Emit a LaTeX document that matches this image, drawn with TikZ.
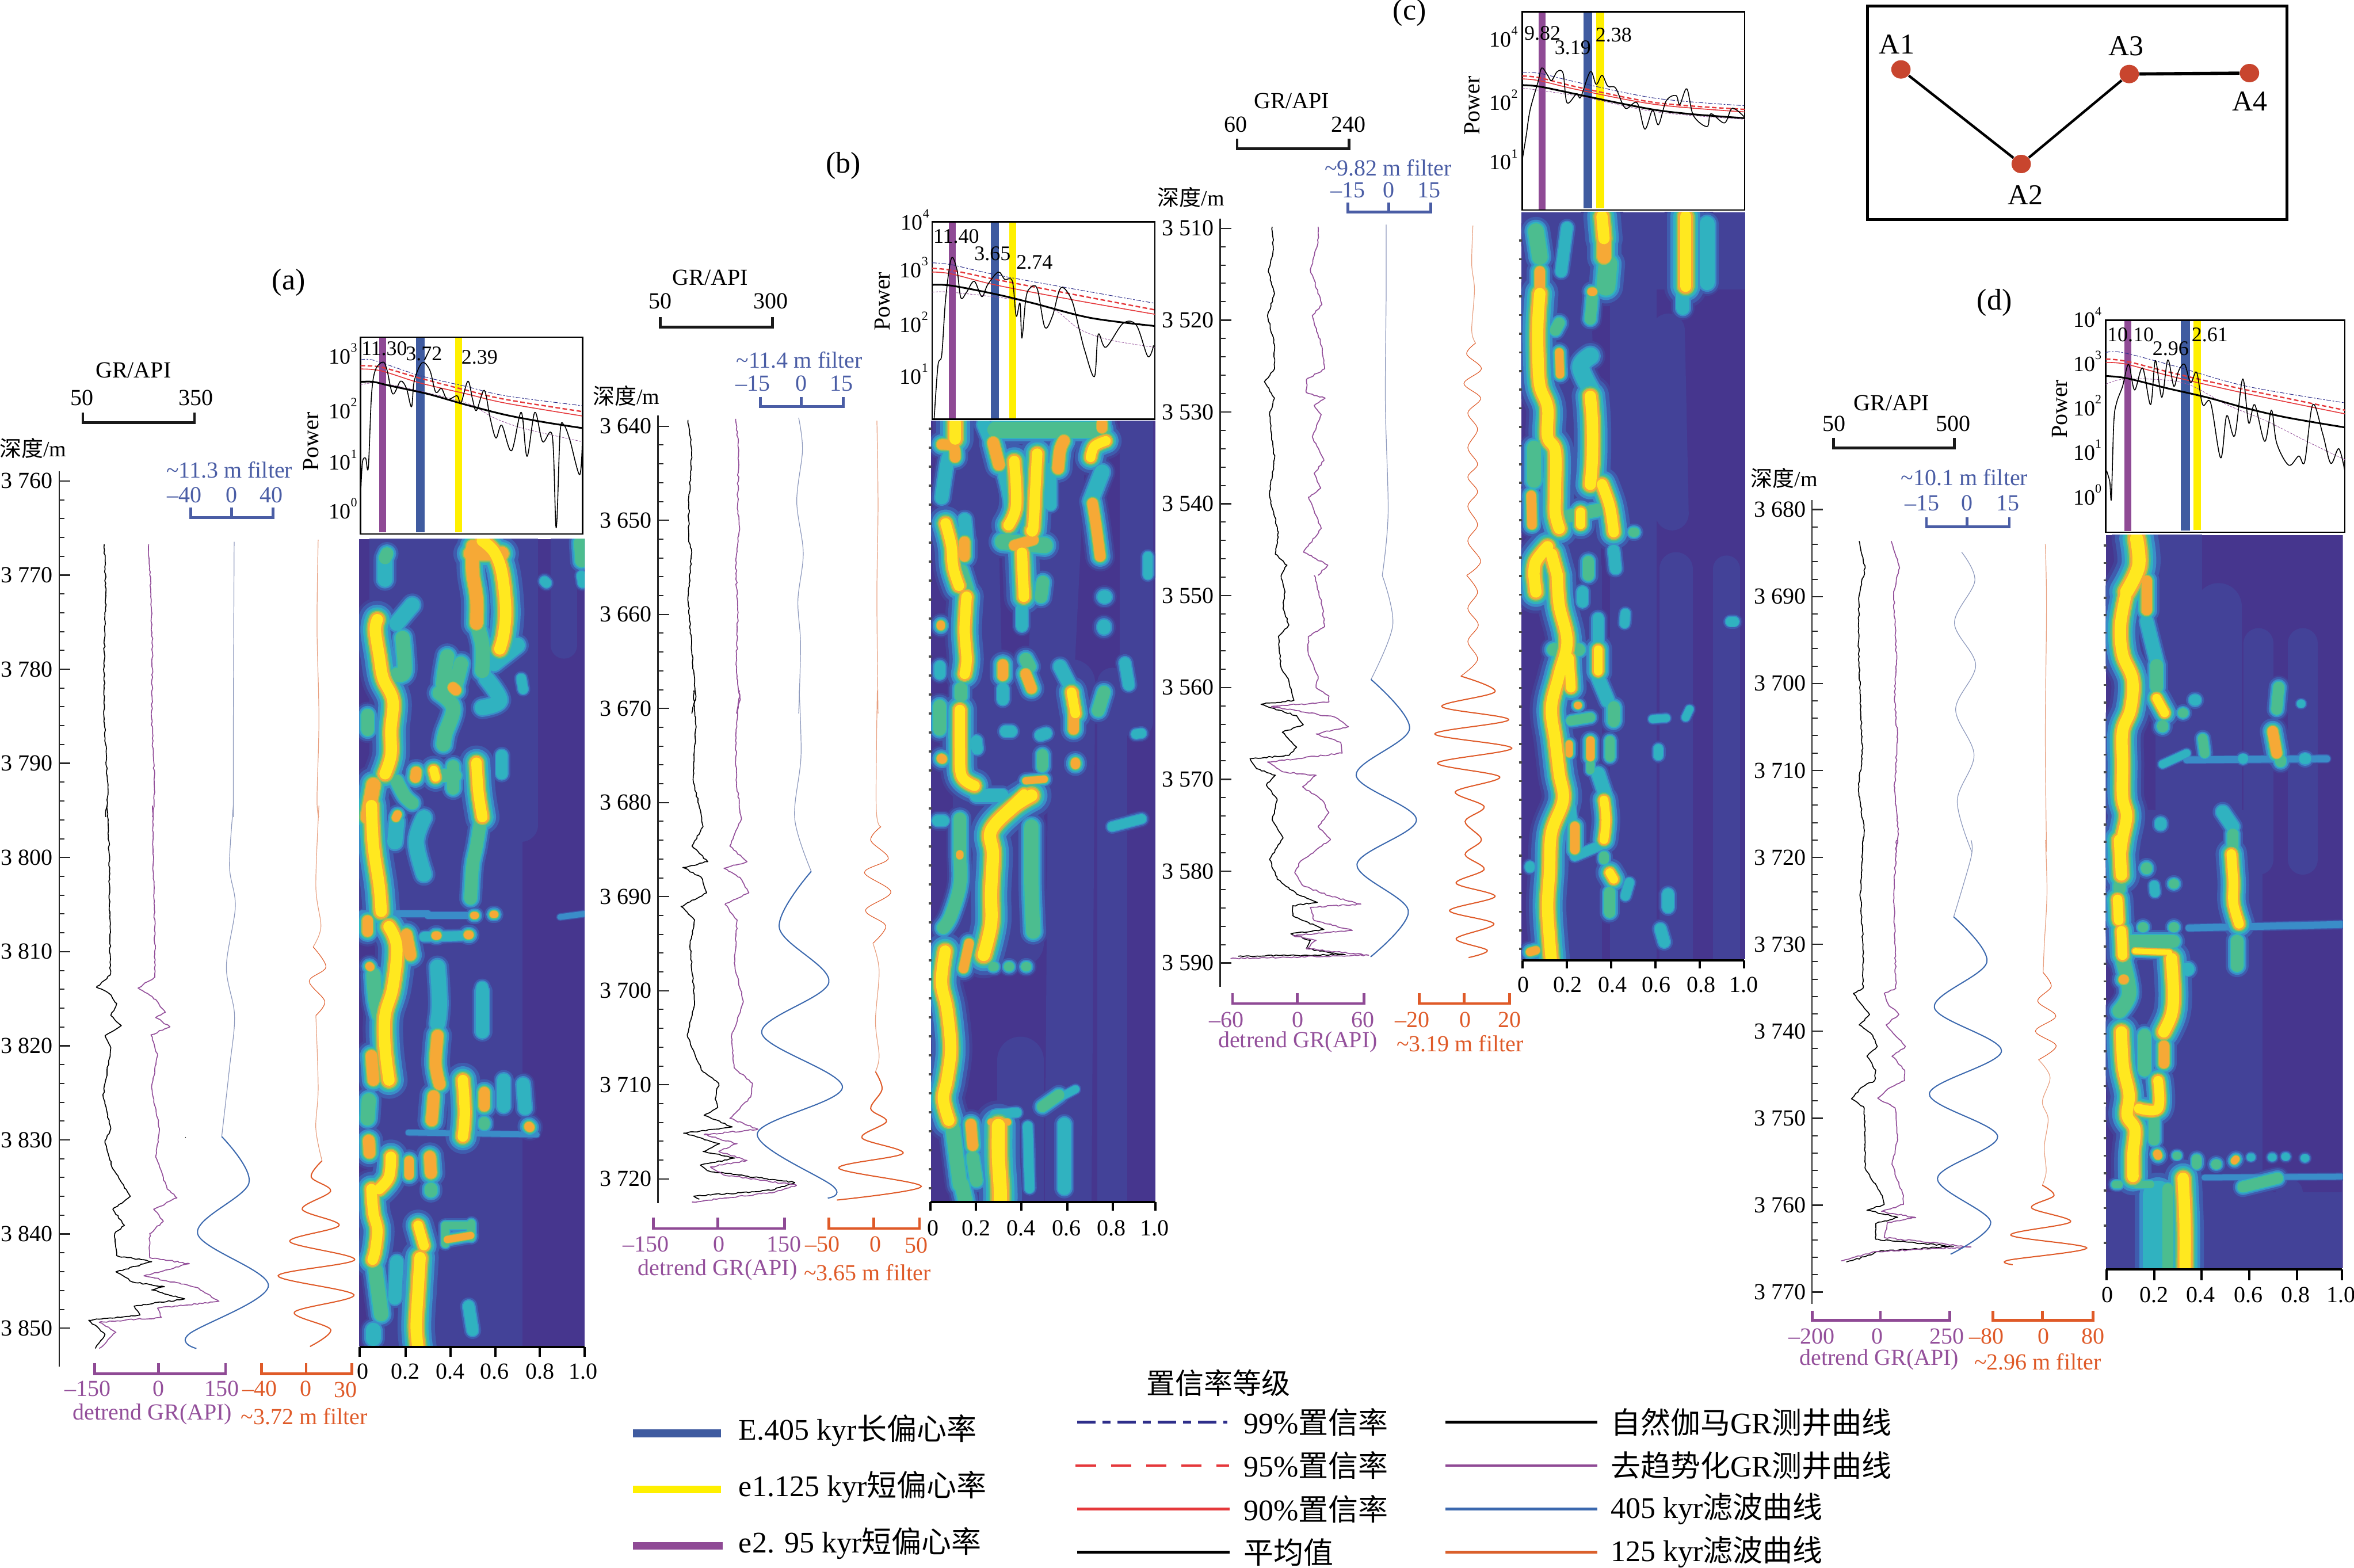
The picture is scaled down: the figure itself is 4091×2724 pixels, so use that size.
\documentclass[tikz,border=0pt]{standalone}
\usepackage{fontspec}
\setmainfont{Liberation Serif}
\newfontfamily\cjk{Noto Sans CJK SC}
\usetikzlibrary{shapes.geometric,decorations.pathmorphing}
\definecolor{hbg}{HTML}{46368E}
\definecolor{h0}{HTML}{434298}
\definecolor{h1}{HTML}{3F5CAE}
\definecolor{h2}{HTML}{3A8DC8}
\definecolor{h3}{HTML}{30B2C0}
\definecolor{h4}{HTML}{4CBD8F}
\definecolor{h5}{HTML}{A5BF50}
\definecolor{h6}{HTML}{F6A936}
\definecolor{h7}{HTML}{FFE81F}
\definecolor{cblue}{HTML}{4A5DA5}
\definecolor{cpur}{HTML}{94509B}
\definecolor{corg}{HTML}{DF5A28}
\definecolor{bblue}{HTML}{3F5BA0}
\definecolor{byel}{HTML}{FFF000}
\definecolor{bpur}{HTML}{8F4A95}
\definecolor{cnavy}{HTML}{2E2E8A}
\definecolor{cred}{HTML}{E5383B}
\definecolor{fblue}{HTML}{3B68AE}
\definecolor{fthin}{HTML}{8C98BC}
\definecolor{othin}{HTML}{E8A080}
\definecolor{wellc}{HTML}{C8452E}
\newcommand\fsz[1]{\fontsize{#1}{#1}\selectfont}
\newcount\nodeid
\tikzset{
  zm/.style n args={4}{shift={(#1,#2)},x={#3*0.25pt/1568},y={-#4*0.25pt/1568}},
  txt/.style={font=\fontsize{10}{12}\selectfont,inner sep=0pt},
  noisy/.style={decorate,decoration={random steps,segment length=1.2pt,amplitude=.3pt}},
  grc/.style={color=black,line width=.42pt,line join=round,noisy},
  puc/.style={color=cpur,line width=.42pt,line join=round,noisy},
  flt/.style={color=fblue,line width=.5pt},
  fltthin/.style={color=fthin,line width=.3pt},
  orc/.style={color=corg,line width=.5pt},
  orcmid/.style={color=corg,line width=.28pt},
  orcthin/.style={color=othin,line width=.3pt},
  spec/.style={color=black,line width=.4pt,line join=round},
  s99/.style={color=cnavy,line width=.25pt,dash pattern=on 2pt off .7pt on .7pt off .7pt},
  s95/.style={color=cred,line width=.6pt,dash pattern=on 2pt off 1.1pt},
  s90/.style={color=cred,line width=.4pt},
  smean/.style={color=black,line width=.75pt},
  sdot/.style={color=cpur,line width=.2pt,dash pattern=on 1pt off .5pt},
  brk/.style={line width=1.2pt,line cap=butt,line join=miter},
  well/.style={ellipse,fill=wellc,draw=none,minimum width=8.4pt,minimum height=8pt,inner sep=0pt},
}
\newcommand\lab[4][black]{\global\advance\nodeid by 1 \node[txt,text=#1] (n\the\nodeid) at (#2,#3) {#4};}
\newcommand\labl[4][black]{\global\advance\nodeid by 1 \node[txt,anchor=west,text=#1] (n\the\nodeid) at (#2,#3) {#4};}
\newcommand\cv[2][]{\draw[#1] plot[smooth,tension=.55] coordinates {#2};}
\newcommand\nv[2][]{\draw[#1] plot[sharp plot] coordinates {#2};}
\newcommand\pw[1]{10\raisebox{.55em}{\fsz{5.5}#1}}
\newcommand\brkt[6]{\draw[brk,color=#1] (#2,#5)--(#2,#6)--(#4,#6)--(#4,#5) (#3,#5)--(#3,#6);}
\newcommand\brkb[4]{\draw[brk,color=black!90] (#1,#3)--(#1,#4)--(#2,#4)--(#2,#3);}
% depth axis in native pixels: x, top, bottom, y of first label, px per m, majors-1, first depth, tick length
\newcommand\depthax[8]{%
 \draw[line width=.6pt,color=black!85] (#1,#2)--(#1,#3);
 \foreach \i in {0,...,#6}{%
  \pgfmathsetmacro\yy{#4+#5*10*\i}
  \pgfmathtruncatemacro\dd{#7+10*\i}
  \draw[line width=.6pt,color=black!85] (#1,\yy)--(#1+#8,\yy);
  \global\advance\nodeid by 1
  \node[txt,anchor=east] (n\the\nodeid) at (#1-10,\yy) {3 \dd};
  \ifnum\i<#6
  \foreach \k in {1,2,3,4}{%
   \pgfmathsetmacro\yk{\yy+#5*2*\k}
   \draw[line width=.5pt,color=black!85] (#1,\yk)--(#1+#8*.5,\yk);}
  \fi}}
\newcommand\xax[6]{\draw[line width=1pt] (#4,#1)--(#5,#1);
 \foreach \t/\l/\s in {#6}{\draw[line width=1pt] (\t,#1)--(\t,#2);
 \global\advance\nodeid by 1 \node[txt] (n\the\nodeid) at (\l,#3) {\s};}}
\newcommand\rgo[3]{\ifnum\curlayer>#1\relax\else
 \pgfmathsetmacro\rw{{1.45,1.25,1.0,.82,.68,.58,.5,.38}[\curlayer]}
 \draw[color=h\curlayer,line cap=round,line join=round,line width={#2*\rw*1pt}] plot[smooth,tension=.6] coordinates {#3};\fi}
\newcommand\rY[2][13]{\rgo{7}{#1}{#2}}
\newcommand\rO[2][12]{\rgo{6}{#1}{#2}}
\newcommand\rG[2][10.5]{\rgo{4}{#1}{#2}}
\newcommand\rC[2][8]{\rgo{3}{#1}{#2}}
\newcommand\rB[2][3]{\rgo{2}{#1}{#2}}
\newcommand\rF[2][14]{\rgo{0}{#1}{#2}}
\newcommand\heatmap[6]{%
 \begin{scope}\clip (#1) rectangle (#2);
 \fill[hbg] (#1) rectangle (#2);
 \foreach \curlayer in {0,...,7}{%
  \begin{scope}[zm/.expanded=#3]#4\end{scope}
  \begin{scope}[zm/.expanded=#5]#6\end{scope}}
 \end{scope}}
\newcommand\hticks[4]{\foreach \yy in {#2,#3,...,#4}{\draw[line width=.9pt,color=black!70] (#1-4,\yy)--(#1+1,\yy);}}
% spectrum overlay curves: 99, 95, 90, mean, dotted, raw
\newcommand\speccurves[6]{\cv[sdot]{#5}\cv[s99]{#1}\cv[s90]{#3}\cv[s95]{#2}\cv[smean]{#4}\cv[spec]{#6}}
\newcommand\partAa{%
 \rF{(1010,790)(1010,1590)}\rF{(1120,790)(1125,1590)}\rF{(1240,790)(1240,1590)}\rF[10]{(1340,790)(1340,1590)}\rF[8]{(1450,790)(1450,1100)}
 \rY{(970,1030)(965,1060)(975,1130)(985,1190)(1010,1250)(1005,1330)(1005,1400)(990,1450)}
 \rY{(1240,815)(1270,845)(1290,900)(1300,1000)(1295,1070)(1285,1110)}
 \rO{(1210,850)(1290,850)}
 \rO[11]{(1215,830)(1215,900)(1225,970)(1225,1040)}
 \rG[9]{(1225,1040)(1240,1100)(1240,1170)}
 \rC{(1060,990)(1020,1040)}\rG[9]{(1035,1080)(1040,1170)(1020,1180)}
 \rG[8]{(995,850)(990,862)}\rC{(990,870)(990,920)}
 \rG[8]{(945,1290)(945,1330)}
 \rG[9]{(1150,1130)(1140,1210)(1165,1222)(1185,1150)}
 \rO[9]{(1165,1215)(1172,1222)}
 \rG[9]{(1130,1230)(1165,1270)(1145,1340)(1140,1370)}
 \rY[10]{(1115,1440)(1120,1460)}\rO[9]{(1070,1445)(1068,1460)}\rG[8]{(1130,1455)(1170,1455)}\rG[8]{(1165,1430)(1165,1490)}
 \rY[12]{(1225,1420)(1230,1500)(1240,1568)}
 \rO{(960,1480)(945,1568)}
 \rC{(1250,1190)(1285,1250)(1240,1270)}\rC{(1330,1100)(1270,1150)}
 \rC[6]{(1290,1400)(1290,1450)}\rC[5]{(1340,1190)(1345,1220)}
 \rG[8]{(1020,1470)(1040,1510)(1060,1530)}
 \rG[8]{(1492,820)(1495,870)}\rC[5]{(1400,925)(1405,930)}\rC[5]{(1495,910)(1498,930)}
}
\newcommand\partAb{%
 \rF{(1030,-20)(1040,1360)}\rF{(1130,-20)(1125,1360)}\rF{(1240,-20)(1240,1360)}\rF[10]{(1300,-20)(1300,1360)}
 \rY{(955,0)(960,100)(975,200)(980,262)}
 \rB{(930,268)(1100,268)}\rB{(1100,272)(1220,272)}\rB[2.5]{(1440,276)(1503,268)}
 \rO[9]{(945,285)(945,312)}
 \rC[5]{(1090,325)(1210,322)}\rO[7]{(1120,322)(1124,322)}\rO[7]{(1203,320)(1207,320)}
 \rO[6]{(1218,272)(1222,272)}\rO[6]{(1268,270)(1272,270)}
 \rY{(1000,300)(1020,350)(1010,450)(990,520)(990,600)(1000,680)}
 \rO[10]{(1045,320)(1055,370)}
 \rO[10]{(955,620)(960,680)}\rO[7]{(950,398)(952,400)}
 \rG[9]{(960,420)(965,480)(975,520)}
 \rO[7]{(1022,22)(1018,30)}\rC{(1020,40)(1015,90)}\rC{(1090,30)(1070,90)(1090,170)}
 \rG[8]{(1235,40)(1225,100)(1215,150)(1210,230)}\rY[10]{(1238,3)(1240,20)}
 \rC{(1125,400)(1130,490)(1125,540)}\rC[7]{(1240,460)(1240,560)}
 \rO[10]{(1125,570)(1120,640)(1130,690)}
 \rY[12]{(1190,680)(1195,760)(1190,820)}
 \rO[9]{(1245,710)(1245,745)}\rG[7]{(1245,785)(1245,790)}\rC[7]{(1295,680)(1295,745)}\rC[7]{(1345,690)(1350,750)}\rO[8]{(1360,795)(1362,797)}
 \rB[2.5]{(1050,810)(1380,815)}
 \rO[10]{(1115,720)(1110,780)}\rG[9]{(948,730)(945,775)}
 \rO[10]{(948,830)(950,860)}\rY[12]{(1005,870)(1000,920)(975,950)}
 \rO[8]{(1052,880)(1052,915)}\rO[10]{(1105,870)(1108,910)}\rG[8]{(1108,950)(1108,955)}
 \rY[12]{(955,950)(960,1010)(970,1050)(965,1100)(958,1125)}
 \rG[9]{(965,1150)(980,1260)}\rC{(960,1300)(960,1320)}
 \rY[11]{(1075,1040)(1090,1090)}
 \rO[6]{(1150,1075)(1210,1065)}\rG[5]{(1150,1040)(1210,1040)}\rG[5]{(1145,1040)(1145,1085)}\rG[5]{(1212,1035)(1212,1070)}
 \rY{(1080,1120)(1075,1200)(1070,1290)(1075,1345)}
 \rC[6]{(1205,1240)(1215,1300)}\rC[7]{(1020,1130)(1015,1220)}\rC[6]{(1240,450)(1240,470)}
}
\newcommand\partBa{%
 \rF{(1040,750)(1060,1590)}\rF{(1280,750)(1240,1590)}\rF[10]{(1470,750)(1470,1590)}
 \rG[10]{(1100,795)(1380,795)}\rO[9]{(1380,778)(1380,790)}
 \rY{(995,775)(995,820)}\rO[9]{(960,835)(990,840)(995,870)}
 \rO[10]{(1095,830)(1110,890)}
 \rY[12]{(1150,880)(1155,1000)(1135,1055)}
 \rY[12]{(1210,860)(1205,960)(1200,1060)(1195,1070)}
 \rO[10]{(1280,825)(1270,850)(1265,900)}
 \rY[11]{(1390,825)(1360,840)(1350,870)}
 \rO[9]{(1355,995)(1365,1060)(1375,1140)}
 \rC{(1380,910)(1350,990)}
 \rY[12]{(970,1050)(985,1110)(990,1170)(1005,1220)}
 \rO[9]{(1020,1100)(1020,1140)}
 \rG[10]{(1120,1100)(1230,1110)}\rO[9]{(1150,1110)(1200,1095)}
 \rY[12]{(1170,1130)(1175,1250)}
 \rG[8]{(1225,1210)(1220,1250)}
 \rG[9]{(1010,1180)(1025,1230)}
 \rY[12]{(1025,1250)(1020,1340)(1025,1420)(1020,1460)}
 \rO[7]{(958,1326)(958,1330)}\rC[7]{(1385,1250)(1388,1250)}\rC[7]{(1385,1330)(1385,1335)}
 \rO[9]{(1120,1435)(1120,1465)}\rO[9]{(1180,1460)(1195,1500)}
 \rY[11]{(1300,1510)(1310,1568)}
 \rG[8]{(1385,1510)(1370,1560)}\rG[8]{(1180,1420)(1190,1440)}\rC[7]{(1270,1440)(1300,1500)}\rC[6]{(1440,1430)(1450,1490)}\rC[5]{(1500,1140)(1500,1190)}
 \rC[7]{(1070,780)(1090,830)}\rC[7]{(960,980)(975,880)(985,860)}\rC[7]{(1020,1040)(1025,1100)}
 \rC[7]{(1125,920)(1140,1000)(1130,1090)}\rC[6]{(1170,1280)(1170,1330)}\rC[6]{(1245,900)(1245,1000)}
 \rC[6]{(955,1440)(955,1460)}\rG[8]{(1010,1500)(1010,1520)}\rC[6]{(1120,1500)(1120,1530)}\rC[5]{(950,1560)(960,1568)}
}
\newcommand\partBb{%
 \rF{(1030,-20)(1030,650)}\rF{(1150,-20)(1150,650)}\rF{(1290,-20)(1280,1330)}\rF[9]{(1400,-20)(1400,1330)}
 \rF{(1150,950)(1150,1330)}
 \rO[9]{(1295,5)(1295,100)}\rO[8]{(1300,185)(1300,190)}\rO[6]{(1165,232)(1215,228)}
 \rG[8]{(930,40)(930,100)}\rY[12]{(985,50)(985,150)(990,220)(1025,245)}\rO[8]{(935,175)(937,176)}
 \rC[6]{(1030,130)(1032,150)}\rC[6]{(1110,105)(1125,105)}\rC[6]{(1220,110)(1205,115)}\rG[7]{(1210,165)(1210,195)}\rC[5]{(1480,110)(1465,112)}
 \rY[14]{(1180,270)(1130,300)(1070,360)(1075,420)(1070,520)(1070,600)(1050,680)}
 \rY[10]{(1160,265)(1110,310)}
 \rO[8]{(1010,650)(995,715)}
 \rC[7]{(1030,270)(1100,270)}
 \rG[8]{(985,330)(985,420)(985,500)(960,580)(940,610)}
 \rO[6]{(985,420)(985,425)}
 \rG[9]{(1180,350)(1180,500)(1185,620)}
 \rC[6]{(940,335)(925,335)}\rC[5]{(1400,350)(1480,330)}
 \rG[6]{(1075,710)(1078,710)}\rG[6]{(1118,710)(1120,710)}\rG[6]{(1165,710)(1167,710)}
 \rY{(945,670)(935,750)(950,820)(960,920)(950,1000)(940,1050)(955,1105)}
 \rG[7]{(1255,1040)(1210,1070)}\rC[5]{(1140,1085)(1080,1090)}\rC[4]{(1300,1025)(1250,1050)}
 \rG[9]{(965,1125)(985,1270)}\rO[9]{(1015,1115)(1020,1170)}\rG[8]{(1020,1200)(1030,1260)}
 \rY[15]{(1090,1118)(1090,1200)(1095,1280)(1095,1320)}
 \rO[6]{(1070,1110)(1115,1110)}
 \rC[7]{(1270,1115)(1270,1280)}\rG[9]{(990,1270)(1000,1312)}
 \rC[5]{(1170,1120)(1175,1280)}
}
\newcommand\partCa{%
 \ifnum\curlayer=0 \fill[h0] (952,578) rectangle (1528,788);\fi
 \rF{(1070,780)(1100,1590)}\rF{(1240,780)(1240,1590)}\rF[10]{(1330,900)(1340,1400)}
 \rY{(1160,590)(1165,650)}\rO[12]{(1165,650)(1165,700)}\rG[12]{(1175,720)(1170,780)}
 \rY{(1375,590)(1375,680)(1375,780)}\rC[8]{(1430,610)(1430,770)}\rC[7]{(1368,800)(1368,840)}
 \rG[10]{(990,630)(1000,700)}\rO[9]{(1000,740)(1000,780)}
 \rC[6]{(1070,620)(1055,740)}\rG[7]{(1135,810)(1130,870)}\rO[7]{(1133,795)(1137,795)}
 \rY{(1000,800)(995,880)(995,960)(1000,1050)(1020,1110)(1020,1190)(1040,1230)(1040,1340)(1040,1400)(1050,1440)}
 \rG[7]{(1050,880)(1040,900)}\rO[7]{(1050,960)(1052,1020)}
 \rC[9]{(1130,970)(1105,1000)(1130,1060)}
 \rY{(1130,1080)(1135,1150)(1135,1250)(1130,1320)}
 \rG[9]{(985,1220)(985,1310)}
 \rY[12]{(1160,1320)(1180,1380)(1190,1450)}
 \rO[8]{(978,1350)(980,1430)}
 \rG[8]{(1060,1410)(1150,1390)}\rY[10]{(1105,1395)(1105,1430)}
 \rG[6]{(1240,1450)(1244,1450)}
 \rY{(1020,1490)(990,1530)(985,1568)}\rY{(1030,1510)(1045,1568)}
 \rG[7]{(1125,1530)(1125,1568)}\rC[6]{(1190,1500)(1195,1550)}
}
\newcommand\partCb{%
 \rF{(1100,-20)(1100,1180)}\rF{(1240,-20)(1240,1180)}\rF[10]{(1350,-20)(1350,1180)}\rF[8]{(1480,-20)(1480,1180)}
 \rY{(985,0)(990,50)}
 \rY{(1045,0)(1050,90)(1070,200)(1050,300)(1030,400)(1040,500)(1050,600)(1060,680)(1030,780)(1025,900)(1020,1000)(1025,1100)(1030,1170)}
 \rG[8]{(1035,225)(1100,225)}
 \rY[11]{(1075,250)(1080,340)}
 \rC[6]{(1110,50)(1110,80)}\rC[6]{(1150,130)(1150,200)}\rY[10]{(1150,225)(1150,290)}
 \rC[7]{(1150,310)(1175,380)}\rG[8]{(1190,400)(1190,440)}\rG[6]{(1180,500)(1180,550)}
 \rO[6]{(1097,393)(1099,393)}\rG[6]{(1080,440)(1130,430)}\rO[7]{(1130,500)(1130,550)}\rO[6]{(1075,510)(1075,540)}
 \rG[5]{(1130,570)(1130,590)}
 \rC[7]{(1150,600)(1170,670)}\rY[10]{(1165,680)(1170,740)(1165,800)}\rG[6]{(1165,850)(1165,860)}
 \rO[8]{(1090,760)(1090,830)}\rC[5]{(1090,850)(1160,815)}\rC[5]{(1080,700)(1085,760)}
 \rY[10]{(1180,900)(1190,920)}\rG[7]{(1180,960)(1180,1020)}\rC[5]{(1230,930)(1220,970)}
 \rC[6]{(1330,965)(1330,1005)}\rC[6]{(1310,1070)(1320,1110)}\rC[5]{(1305,525)(1305,545)}\rC[5]{(1500,140)(1490,140)}\rC[5]{(1220,115)(1218,145)}
 \rC[4]{(1290,435)(1325,432)}\rC[4]{(1375,430)(1385,405)}\rC[5]{(975,880)(975,885)}
 \rO[7]{(990,1135)(975,1140)}
}
\newcommand\partDa{%
 \rF{(1130,685)(1130,1590)}\rF{(1230,900)(1230,1590)}\rF[9]{(1330,1000)(1330,1590)}\rF[9]{(1440,1000)(1440,1590)}
 \rY[15]{(1025,715)(1030,790)(1000,860)}
 \rY{(1000,860)(985,950)(990,1030)(1015,1100)(1010,1180)(990,1240)(990,1330)(990,1420)(1000,1470)(990,1530)(985,1568)}
 \rO[9]{(1050,830)(1050,910)}\rC[7]{(1050,940)(1075,1050)}\rG[8]{(1075,1060)(1075,1120)}
 \rY[10]{(1075,1150)(1095,1190)}\rG[7]{(1090,1225)(1090,1228)}
 \rG[6]{(1140,1190)(1142,1190)}\rC[6]{(1170,1155)(1172,1155)}\rG[6]{(1190,1260)(1195,1300)}
 \rC[4]{(1090,1330)(1150,1300)}\rB{(1150,1318)(1500,1315)}
 \rG[7]{(1380,1120)(1375,1180)}\rO[9]{(1365,1240)(1375,1300)}\rG[7]{(1385,1320)(1385,1323)}
 \rC[5]{(1290,1315)(1292,1315)}\rC[6]{(1445,1315)(1447,1315)}\rC[4]{(1435,1165)(1437,1165)}
 \rC[7]{(1240,1460)(1265,1500)}\rG[7]{(1265,1520)(1265,1568)}\rC[6]{(1085,1490)(1085,1495)}
}
\newcommand\partDb{%
 \ifnum\curlayer=0 \fill[h0] (925,1010) rectangle (1537,1230);\fi
 \rF{(1040,-20)(1040,950)}\rF{(1150,-20)(1150,1000)}\rF{(1270,-20)(1270,1250)}\rF[8]{(1400,1010)(1400,1250)}\rF[8]{(1140,400)(1150,900)}
 \rY{(960,0)(965,100)}\rG[8]{(960,130)(960,140)}\rY[11]{(955,170)(958,230)}\rY[11]{(965,260)(968,330)}
 \rG[9]{(970,350)(985,440)(960,490)}\rO[8]{(970,400)(972,400)}
 \rY[11]{(1250,40)(1255,120)(1255,180)(1270,240)}\rG[8]{(1265,290)(1265,360)}
 \rG[7]{(1030,80)(1030,82)}\rC[5]{(1050,130)(1052,150)}\rG[6]{(1100,125)(1102,125)}
 \rG[6]{(1020,250)(1022,250)}\rG[6]{(1100,250)(1102,250)}\rB{(1140,252)(1537,242)}
 \rG[8]{(965,290)(1100,290)}
 \rY[6]{(1000,318)(1090,322)}
 \rY{(1095,340)(1100,440)(1095,500)(1075,550)}\rO[9]{(1075,590)(1075,640)}
 \rC[7]{(1135,370)(1137,370)}
 \rY{(965,550)(970,650)(985,730)(980,790)(1000,830)(995,900)(995,965)}
 \rG[8]{(1025,560)(1025,660)}
 \rY[11]{(1060,690)(1060,770)(1010,770)}
 \rG[7]{(1050,800)(1050,860)}\rO[7]{(1058,900)(1060,905)}
 \rG[5]{(1108,905)(1110,905)}\rG[6]{(1160,915)(1160,930)}\rG[6]{(1210,930)(1212,930)}\rO[6]{(1262,915)(1258,920)}\rC[4]{(1300,910)(1302,910)}\rC[4]{(1355,910)(1357,910)}\rC[4]{(1390,908)(1392,908)}\rC[4]{(1440,912)(1442,912)}
 \rG[5]{(950,988)(958,988)}\rG[5]{(1005,988)(1040,988)}
 \rC[16]{(1060,1020)(1060,1240)}\rG[7]{(1085,1000)(1085,1240)}
 \rY{(1125,970)(1130,1100)(1130,1240)}
 \rG[7]{(1280,995)(1370,970)}\rB[2.5]{(1180,968)(1537,965)}
}
\pgfmathsetseed{42}
\begin{document}
\begin{tikzpicture}[x=.25pt,y=-.25pt]
\useasboundingbox (0,0) rectangle (4091,2724);
\fill[white] (0,0) rectangle (4091,2724);
% ================= PANEL A =================
\heatmap{624,936.6}{1016,2340}{{0}{420}{1060}{1000}}{\partAa}{{0}{1400}{1060}{1100}}{\partAb}
\depthax{102.8}{818.6}{2375}{835.8}{16.36}{9}{760}{19}
\begin{scope}[zm={0}{420}{1060}{1000}]
 \lab{742}{112}{\fsz{13}(a)}
 \lab{343}{350}{GR/API}\lab{211}{425}{50}\lab{503}{425}{350}
 \brkb{213}{500}{465}{493}
 \lab{85}{563}{\fsz{9.5}{\cjk 深度}/m}
 \lab[cblue]{590}{622}{\textasciitilde 11.3 m filter}
 \lab[cblue]{474}{690}{–40}\lab[cblue]{595}{690}{0}\lab[cblue]{698}{690}{40}
 \brkt{cblue}{490}{595}{702}{725}{752}
 \nv[grc]{(268,825)(272,960)(268,1120)(268,1300)(278,1500)(272,1568)}
 \nv[puc]{(382,825)(388,960)(392,1120)(390,1300)(398,1500)(392,1568)}
 \cv[fltthin]{(602,818)(600,1300)(600,1568)}
 \cv[orcthin]{(818,812)(815,1050)(820,1300)(815,1520)(820,1568)}
 % spectrum
 \draw[fill=white,line width=.6pt] (927,260) rectangle (1498,797);
 \fill[bpur] (975,262) rectangle (993,792);
 \fill[bblue] (1069,262) rectangle (1092,792);
 \fill[byel] (1170,262) rectangle (1188,792);
 \speccurves{(927,323)(960,323)(1080,365)(1200,395)(1300,420)(1497,447)}
  {(927,338)(980,342)(1080,372)(1200,405)(1300,430)(1497,463)}
  {(927,347)(980,352)(1080,385)(1200,415)(1300,440)(1497,475)}
  {(927,382)(960,382)(1000,392)(1100,415)(1200,445)(1300,472)(1400,492)(1497,508)}
  {(927,390)(970,385)(1050,400)(1200,440)(1270,480)(1350,510)(1497,545)}
  {(928,670)(932,600)(940,590)(947,615)(955,420)(965,350)(985,328)(995,350)(1010,415)(1030,380)(1045,400)(1058,450)(1065,380)(1085,330)(1105,350)(1120,410)(1135,400)(1150,430)(1175,420)(1185,440)(1203,380)(1215,430)(1225,460)(1245,405)(1260,480)(1275,535)(1290,500)(1315,570)(1340,465)(1355,585)(1375,465)(1395,545)(1420,530)(1430,780)(1440,520)(1450,500)(1465,540)(1490,635)(1497,550)}
 \lab{988}{292}{\fsz{9}11.30}\lab{1090}{305}{\fsz{9}3.72}\lab{1233}{315}{\fsz{9}2.39}
 \lab{882}{305}{\fsz{9.5}\pw{3}}\lab{882}{455}{\fsz{9.5}\pw{2}}\lab{882}{595}{\fsz{9.5}\pw{1}}\lab{882}{727}{\fsz{9.5}\pw{0}}
 \global\advance\nodeid by 1 \node[txt,rotate=90] (n\the\nodeid) at (800,545) {Power};
\end{scope}
\begin{scope}[zm={0}{1400}{1060}{1100}]
 \nv[grc]{(275,0)(280,100)(283,300)(283,420)(248,450)(280,465)(300,490)(285,520)(312,545)(270,570)(285,600)(265,720)(285,800)(270,830)(290,900)(335,968)(290,1000)(320,1040)(295,1060)(300,1115)(390,1130)(298,1155)(340,1180)(423,1192)(390,1200)(475,1222)(345,1240)(360,1262)(228,1275)(270,1310)(245,1345)}
 \nv[puc]{(392,0)(393,100)(398,300)(398,425)(355,452)(400,480)(425,512)(400,525)(437,548)(388,568)(405,620)(390,700)(410,800)(400,870)(430,950)(455,972)(395,1000)(420,1030)(385,1060)(385,1120)(487,1135)(370,1165)(510,1195)(563,1228)(405,1245)(415,1268)(255,1280)(298,1305)(255,1345)}
 \cv[fltthin]{(600,0)(590,150)(605,250)(582,400)(603,520)(590,650)(570,820)}
 \cv[flt]{(570,820)(640,935)(508,1060)(690,1190)(485,1310)(505,1345)}
 \cv[orcthin]{(820,0)(812,200)(825,300)(805,350)}
 \cv[orcthin]{(812,520)(818,700)(812,800)(828,880)}
 \cv[orcmid]{(805,350)(838,400)(795,435)(835,485)(812,520)}
 \cv[orc]{(828,880)(800,920)(850,955)(777,1000)(872,1040)(745,1080)(912,1125)(715,1165)(910,1212)(757,1255)(850,1298)(797,1340)}
 \fill[black] (477,822) circle (1.2);
 \brkt{bpur}{243}{408}{580}{1382}{1408}
 \brkt{corg}{672}{787}{905}{1382}{1408}
 \lab[cpur]{225}{1445}{–150}\lab[cpur]{408}{1445}{0}\lab[cpur]{570}{1445}{150}
 \lab[corg]{668}{1445}{–40}\lab[corg]{786}{1445}{0}\lab[corg]{888}{1448}{30}
 \lab[cpur]{392}{1508}{detrend GR(API)}\lab[corg]{782}{1513}{\textasciitilde 3.72 m filter}
 \xax{1342}{1365}{1402}{925}{1503}{925/932/0,1043/1042/0.2,1158/1157/0.4,1273/1272/0.6,1388/1388/0.8,1503/1500/1.0}
\end{scope}
% ================= PANEL B =================
\heatmap{1618,731}{2008,2087}{{1000}{240}{1040}{1000}}{\partBa}{{1040}{1200}{1000}{1060}}{\partBb}
\hticks{1618}{745}{778}{2080}
\depthax{1143.3}{721.5}{2091}{740.7}{16.35}{8}{640}{20}
\begin{scope}[zm={1000}{240}{1040}{1000}]
 \lab{702}{75}{\fsz{13}(b)}
 \lab{353}{380}{GR/API}\lab{222}{445}{50}\lab{512}{445}{300}
 \brkb{222}{517}{488}{515}
 \lab{133}{703}{\fsz{9.5}{\cjk 深度}/m}
 \lab[cblue]{587}{605}{\textasciitilde 11.4 m filter}
 \lab[cblue]{465}{668}{–15}\lab[cblue]{592}{668}{0}\lab[cblue]{698}{668}{15}
 \brkt{cblue}{485}{592}{702}{705}{732}
 \nv[grc]{(295,768)(305,850)(297,1000)(297,1100)(305,1130)(295,1250)(305,1400)(315,1530)(305,1568)}
 \nv[puc]{(420,765)(428,850)(425,1000)(430,1060)(420,1150)(425,1300)(422,1450)(432,1530)(422,1568)}
 \cv[fltthin]{(585,762)(595,850)(580,990)(597,1130)(583,1260)(590,1380)(585,1568)}
 \cv[orcthin]{(790,770)(793,1000)(790,1250)(793,1568)}
 \draw[fill=white,line width=.6pt] (935,228) rectangle (1518,766);
 \fill[bpur] (978,230) rectangle (996,764);
 \fill[bblue] (1088,230) rectangle (1110,764);
 \fill[byel] (1137,230) rectangle (1155,764);
 \speccurves{(935,340)(985,345)(1100,372)(1300,410)(1518,450)}
  {(935,355)(985,360)(1100,385)(1300,425)(1518,468)}
  {(935,365)(985,370)(1100,400)(1300,440)(1518,480)}
  {(935,400)(985,402)(1100,425)(1200,450)(1350,490)(1518,512)}
  {(935,420)(985,420)(1150,440)(1250,465)(1320,520)(1400,550)(1518,570)}
  {(940,766)(950,620)(960,590)(970,440)(985,328)(1000,360)(1010,435)(1025,420)(1045,390)(1065,432)(1080,400)(1108,365)(1125,385)(1145,390)(1155,485)(1165,450)(1170,545)(1180,440)(1190,410)(1210,410)(1230,515)(1250,485)(1272,408)(1300,440)(1320,520)(1335,580)(1360,650)(1370,535)(1390,570)(1435,505)(1470,510)(1500,595)(1515,565)}
 \lab{998}{268}{\fsz{9}11.40}\lab{1093}{315}{\fsz{9}3.65}\lab{1203}{338}{\fsz{9}2.74}
 \lab{890}{222}{\fsz{9.5}\pw{4}}\lab{887}{352}{\fsz{9.5}\pw{3}}\lab{887}{502}{\fsz{9.5}\pw{2}}\lab{887}{643}{\fsz{9.5}\pw{1}}
 \global\advance\nodeid by 1 \node[txt,rotate=90] (n\the\nodeid) at (805,445) {Power};
\end{scope}
\begin{scope}[zm={1040}{1200}{1000}{1060}]
 \nv[grc]{(260,0)(265,100)(258,230)(280,320)(285,350)(255,400)(298,440)(230,455)(280,480)(295,520)(225,555)(262,590)(250,650)(262,800)(242,885)(280,975)(328,1010)(318,1050)(325,1072)(288,1092)(365,1122)(232,1138)(330,1165)(285,1185)(372,1202)(278,1220)(300,1235)(400,1248)(535,1265)(470,1285)(260,1300)(275,1308)}
 \nv[puc]{(385,0)(375,100)(375,230)(390,330)(358,400)(405,440)(342,457)(385,480)(410,520)(345,550)(378,590)(370,700)(395,800)(362,890)(370,970)(420,1010)(415,1045)(358,1100)(435,1128)(288,1142)(378,1165)(328,1185)(405,1208)(305,1225)(340,1245)(540,1272)(480,1290)(255,1315)}
 \cv[fltthin]{(547,0)(552,170)(535,330)(580,465)}
 \cv[flt]{(580,465)(493,610)(628,750)(445,880)(665,1020)(433,1140)(640,1275)(625,1305)}
 \cv[orcthin]{(760,0)(757,300)(770,350)}
 \cv[orcmid]{(770,350)(742,385)(790,432)(725,468)(797,518)(728,565)(783,605)(748,650)}
 \cv[orcthin]{(748,650)(765,720)(755,850)(765,940)(755,980)}
 \cv[orc]{(755,980)(773,1025)(742,1075)(785,1108)(718,1150)(830,1190)(655,1228)(880,1275)(650,1310)}
 \brkt{bpur}{150}{325}{507}{1355}{1383}
 \brkt{corg}{628}{750}{875}{1355}{1383}
 \lab[cpur]{130}{1423}{–150}\lab[cpur]{328}{1423}{0}\lab[cpur]{505}{1423}{150}
 \lab[corg]{610}{1423}{–50}\lab[corg]{755}{1423}{0}\lab[corg]{866}{1426}{50}
 \lab[cpur]{325}{1490}{detrend GR(API)}\lab[corg]{733}{1497}{\textasciitilde 3.65 m filter}
 \xax{1315}{1338}{1382}{905}{1518}{905/912/0,1028/1030/0.2,1152/1152/0.4,1278/1275/0.6,1402/1398/0.8,1518/1515/1.0}
\end{scope}
% ================= PANEL C =================
\heatmap{2643.6,368.6}{3033,1667}{{2000}{0}{1060}{1000}}{\partCa}{{2000}{1000}{1060}{900}}{\partCb}
\hticks{2643.6}{418}{450.4}{1650}
\depthax{2120.3}{379.5}{1714.6}{396.7}{15.96}{8}{510}{20}
\begin{scope}[zm={2000}{0}{1060}{1000}]
 \lab{665}{35}{\fsz{13}(c)}
 \lab{362}{275}{GR/API}\lab{218}{340}{60}\lab{508}{340}{240}
 \brkb{222}{510}{378}{405}
 \lab{103}{538}{\fsz{9.5}{\cjk 深度}/m}
 \lab[cblue]{610}{458}{\textasciitilde 9.82 m filter}
 \lab[cblue]{507}{518}{–15}\lab[cblue]{612}{518}{0}\lab[cblue]{715}{518}{15}
 \brkt{cblue}{507}{612}{720}{552}{578}
 \nv[grc]{(312,618)(315,680)(302,740)(318,800)(300,860)(318,940)(318,1005)(292,1040)(318,1085)(305,1130)(318,1250)(305,1350)(328,1450)(320,1510)(350,1540)(335,1568)}
 \nv[puc]{(430,618)(430,660)(410,735)(440,830)(415,860)(440,945)(447,1005)(400,1035)(400,1070)(448,1085)(420,1105)(438,1130)(415,1190)(445,1255)(420,1290)(437,1330)(405,1355)(438,1440)(393,1505)(455,1540)(430,1568)}
 \cv[fltthin]{(605,612)(605,800)(603,1100)(610,1400)(595,1568)}
 \cv[orcthin]{(828,615)(825,720)(832,790)(825,900)(835,935)}
 \cv[orcmid]{(835,935)(812,965)(850,1005)(805,1045)(848,1085)(815,1125)(840,1170)(815,1220)(840,1265)(815,1300)(840,1340)(815,1380)(840,1430)(815,1475)(848,1530)(812,1568)}
 \draw[fill=white,line width=.6pt] (955,32) rectangle (1527,572);
 \fill[bpur] (997,35) rectangle (1015,570);
 \fill[bblue] (1112,35) rectangle (1135,568);
 \fill[byel] (1145,35) rectangle (1165,568);
 \speccurves{(955,198)(1000,200)(1100,225)(1300,268)(1527,288)}
  {(955,207)(1000,212)(1100,238)(1300,280)(1527,298)}
  {(955,215)(1000,220)(1100,245)(1300,285)(1527,305)}
  {(955,232)(1000,236)(1100,258)(1200,280)(1300,300)(1400,312)(1527,322)}
  {(955,240)(1100,262)(1300,305)(1527,325)}
  {(955,435)(965,370)(975,300)(995,225)(1005,185)(1020,205)(1030,220)(1045,195)(1060,200)(1070,280)(1095,255)(1105,265)(1130,195)(1145,230)(1160,205)(1175,235)(1195,240)(1220,295)(1250,280)(1270,352)(1290,300)(1305,340)(1325,275)(1350,260)(1360,285)(1378,242)(1395,315)(1430,345)(1440,310)(1475,335)(1495,295)(1527,320)}
 \lab{1007}{90}{\fsz{9}9.82}\lab{1085}{130}{\fsz{9}3.19}\lab{1190}{95}{\fsz{9}2.38}
 \lab{907}{100}{\fsz{9.5}\pw{4}}\lab{907}{272}{\fsz{9.5}\pw{2}}\lab{907}{435}{\fsz{9.5}\pw{1}}
 \global\advance\nodeid by 1 \node[txt,rotate=90] (n\the\nodeid) at (826,288) {Power};
\end{scope}
\begin{scope}[zm={2000}{1000}{1060}{900}]
 \nv[grc]{(335,0)(345,50)(340,100)(355,150)(328,185)(335,280)(355,320)(368,378)(283,390)(375,425)(392,452)(338,475)(375,520)(355,545)(255,555)(272,585)(320,605)(297,635)(325,680)(312,740)(340,795)(305,860)(325,920)(375,965)(428,990)(365,1000)(365,1030)(445,1072)(360,1085)(410,1105)(400,1130)(500,1148)(225,1153)}
 \nv[puc]{(420,0)(432,50)(442,100)(447,155)(405,185)(405,240)(430,305)(425,340)(458,365)(458,383)(310,397)(475,430)(508,458)(425,480)(488,505)(492,538)(300,565)(340,595)(425,605)(390,640)(440,680)(458,718)(430,760)(462,800)(385,865)(370,900)(392,940)(460,970)(540,995)(410,1005)(420,1045)(518,1075)(365,1090)(425,1105)(400,1130)(560,1150)(205,1160)}
 \cv[fltthin]{(595,0)(622,150)(566,315)}
 \cv[flt]{(566,315)(665,465)(528,605)(683,740)(530,875)(662,1015)(565,1155)}
 \cv[orcmid]{(812,0)(840,50)(815,100)(842,150)(815,200)(840,255)(797,305)}
 \cv[orc]{(797,305)(885,352)(748,397)(920,437)(730,480)(928,523)(737,568)(897,610)(783,655)(857,700)(808,745)(850,800)(808,845)(857,890)(785,932)(885,972)(768,1015)(882,1055)(785,1100)(865,1135)(817,1157)}
 \brkt{bpur}{210}{377}{548}{1265}{1296}
 \brkt{corg}{690}{805}{922}{1265}{1296}
 \lab[cpur]{195}{1345}{–60}\lab[cpur]{378}{1345}{0}\lab[cpur]{545}{1345}{60}
 \lab[corg]{672}{1345}{–20}\lab[corg]{808}{1345}{0}\lab[corg]{922}{1345}{20}
 \lab[cpur]{378}{1412}{detrend GR(API)}\lab[corg]{795}{1418}{\textasciitilde 3.19 m filter}
 \xax{1165}{1190}{1240}{955}{1525}{955/958/0,1070/1072/0.2,1183/1187/0.4,1297/1300/0.6,1412/1415/0.8,1525/1525/1.0}
\end{scope}
% ================= PANEL D =================
\heatmap{3659.6,929.6}{4071.5,2204}{{3000}{480}{1091}{1000}}{\partDa}{{3040}{1460}{1051}{950}}{\partDb}
\hticks{3659.6}{948}{978.3}{2190}
\depthax{3149}{869}{2266}{885.6}{15.11}{9}{680}{19}
\begin{scope}[zm={3000}{480}{1091}{1000}]
 \lab{670}{72}{\fsz{13}(d)}
 \lab{413}{345}{GR/API}\lab{270}{402}{50}\lab{567}{402}{500}
 \brkb{268}{570}{440}{468}
 \lab{145}{550}{\fsz{9.5}{\cjk 深度}/m}
 \lab[cblue]{595}{548}{\textasciitilde 10.1 m filter}
 \lab[cblue]{490}{618}{–15}\lab[cblue]{602}{618}{0}\lab[cblue]{703}{618}{15}
 \brkt{cblue}{500}{602}{707}{657}{683}
 \nv[grc]{(332,722)(347,795)(332,870)(330,1000)(335,1150)(340,1300)(330,1400)(345,1510)(340,1568)}
 \nv[puc]{(412,722)(433,795)(418,860)(425,1050)(420,1150)(428,1260)(420,1400)(430,1520)(425,1568)}
 \cv[fltthin]{(588,752)(621,830)(570,945)(623,1060)(573,1180)(619,1305)(577,1430)(613,1568)}
 \cv[orcthin]{(797,730)(800,900)(797,1250)(800,1568)}
 \draw[fill=white,line width=.6pt] (948,120) rectangle (1545,698);
 \fill[bpur] (995,122) rectangle (1012,695);
 \fill[bblue] (1135,122) rectangle (1158,693);
 \fill[byel] (1167,122) rectangle (1186,692);
 \speccurves{(948,208)(990,208)(1120,245)(1300,300)(1545,345)}
  {(948,226)(1000,232)(1120,265)(1300,310)(1545,365)}
  {(948,235)(1000,240)(1120,275)(1300,320)(1545,375)}
  {(948,272)(1000,278)(1100,305)(1200,330)(1300,360)(1400,385)(1545,412)}
  {(948,295)(1000,280)(1140,290)(1250,350)(1350,395)(1450,450)(1545,500)}
  {(950,530)(958,560)(962,605)(968,400)(975,345)(990,300)(1005,240)(1020,310)(1040,250)(1060,350)(1072,230)(1088,330)(1103,228)(1118,300)(1130,258)(1145,240)(1160,290)(1175,262)(1190,350)(1210,345)(1235,495)(1250,380)(1270,435)(1290,280)(1305,400)(1320,350)(1345,450)(1362,365)(1375,455)(1405,515)(1430,490)(1445,505)(1465,350)(1490,430)(1510,510)(1530,470)(1545,530)}
 \lab{1010}{160}{\fsz{9}10.10}\lab{1110}{197}{\fsz{9}2.96}\lab{1208}{160}{\fsz{9}2.61}
 \lab{902}{112}{\fsz{9.5}\pw{4}}\lab{902}{232}{\fsz{9.5}\pw{3}}\lab{902}{352}{\fsz{9.5}\pw{2}}\lab{902}{473}{\fsz{9.5}\pw{1}}\lab{902}{595}{\fsz{9.5}\pw{0}}
 \global\advance\nodeid by 1 \node[txt,rotate=90] (n\the\nodeid) at (833,362) {Power};
\end{scope}
\begin{scope}[zm={3040}{1460}{1051}{950}]
 \nv[grc]{(295,0)(288,150)(295,300)(295,425)(270,440)(290,470)(312,500)(285,530)(320,560)(332,592)(305,620)(328,660)(325,690)(290,710)(265,742)(298,768)(300,850)(300,940)(345,1020)(350,1045)(305,1062)(385,1082)(328,1100)(328,1145)(530,1165)(335,1180)(300,1195)(252,1210)}
 \nv[puc]{(382,0)(375,150)(378,300)(380,425)(350,440)(360,470)(388,500)(355,530)(405,592)(370,620)(403,660)(403,690)(365,710)(333,740)(378,768)(385,860)(370,930)(400,1020)(400,1045)(343,1065)(432,1083)(358,1098)(350,1140)(575,1167)(330,1180)(270,1197)(238,1207)}
 \cv[fltthin]{(575,0)(575,50)(530,220)}
 \cv[flt]{(530,220)(616,350)(480,480)(654,605)(467,728)(644,850)(488,970)(626,1095)(522,1188)}
 \cv[orcthin]{(768,0)(772,150)(765,300)(762,380)}
 \cv[orcmid]{(762,380)(783,420)(748,462)(795,505)(742,548)(796,590)(750,630)}
 \cv[orcthin]{(750,630)(780,680)(760,750)(775,800)(765,880)(770,950)(760,990)}
 \cv[orc]{(760,990)(790,1020)(732,1055)(833,1095)(678,1133)(875,1170)(672,1205)(683,1218)}
 \brkt{bpur}{163}{340}{520}{1350}{1378}
 \brkt{corg}{632}{760}{892}{1350}{1378}
 \lab[cpur]{162}{1423}{–200}\lab[cpur]{332}{1423}{0}\lab[cpur]{512}{1423}{250}
 \lab[corg]{615}{1423}{–80}\lab[corg]{763}{1423}{0}\lab[corg]{892}{1423}{80}
 \lab[cpur]{337}{1490}{detrend GR(API)}\lab[corg]{748}{1497}{\textasciitilde 2.96 m filter}
 \xax{1232}{1262}{1305}{925}{1537}{927/928/0,1050/1050/0.2,1172/1170/0.4,1296/1294/0.6,1420/1417/0.8,1537/1535/1.0}
\end{scope}
% ================= INSET =================
\begin{scope}[zm={2500}{0}{1591}{522.667}]
 \draw[line width=1.2pt] (735,32) rectangle (1453,1145);
 \node[well] (A1) at (792,362) {};
 \node[well] (A2) at (998,855) {};
 \node[well] (A3) at (1183,386) {};
 \node[well] (A4) at (1389,381) {};
 \draw[line width=1.1pt] (A1)--(A2);
 \draw[line width=1.1pt] (A2)--(A3);
 \draw[line width=1.4pt] (A3)--(A4);
 \node[txt] (tA1) at (785,232) {\fsz{12.5}A1};
 \node[txt] (tA2) at (1005,1018) {\fsz{12.5}A2};
 \node[txt] (tA3) at (1178,240) {\fsz{12.5}A3};
 \node[txt] (tA4) at (1390,527) {\fsz{12.5}A4};
\end{scope}
% ================= LEGEND =================
\begin{scope}[zm={1000}{2360}{2400}{522.667}]
 \fill[bblue] (65,371) rectangle (165,415);
 \fill[byel] (65,667) rectangle (165,705);
 \fill[bpur] (65,961) rectangle (167,999);
 \labl{185}{378}{\fsz{13}E.405 kyr{\cjk 长偏心率}}
 \labl{185}{672}{\fsz{13}e1.125 kyr{\cjk 短偏心率}}
 \labl{185}{966}{\fsz{13}e2. 95 kyr{\cjk 短偏心率}}
 \lab{730}{130}{\fsz{12.5}{\cjk 置信率等级}}
 \draw[color=cnavy,line width=1.1pt,dash pattern=on 8pt off 3pt on 3.5pt off 3pt] (570,334)--(740,334);
 \draw[color=cred,line width=1.1pt,dash pattern=on 8.8pt off 6.5pt] (568,560)--(742,560);
 \draw[color=cred,line width=1.1pt] (570,787)--(743,787);
 \draw[color=black,line width=1.1pt] (570,1013)--(743,1013);
 \labl{758}{334}{\fsz{13}99\%{\cjk 置信率}}
 \labl{758}{560}{\fsz{13}95\%{\cjk 置信率}}
 \labl{758}{787}{\fsz{13}90\%{\cjk 置信率}}
 \labl{758}{1013}{\fsz{13}{\cjk 平均值}}
 \draw[color=black,line width=1.1pt] (988,334)--(1160,334);
 \draw[color=bpur,line width=1.1pt] (988,560)--(1160,560);
 \draw[color=fblue,line width=1.1pt] (988,787)--(1160,787);
 \draw[color=corg!85!brown,line width=1.1pt] (988,1013)--(1160,1013);
 \labl{1175}{334}{\fsz{13}{\cjk 自然伽马}GR{\cjk 测井曲线}}
 \labl{1175}{560}{\fsz{13}{\cjk 去趋势化}GR{\cjk 测井曲线}}
 \labl{1175}{787}{\fsz{13}405 kyr{\cjk 滤波曲线}}
 \labl{1175}{1013}{\fsz{13}125 kyr{\cjk 滤波曲线}}
\end{scope}
\end{tikzpicture}
\end{document}
